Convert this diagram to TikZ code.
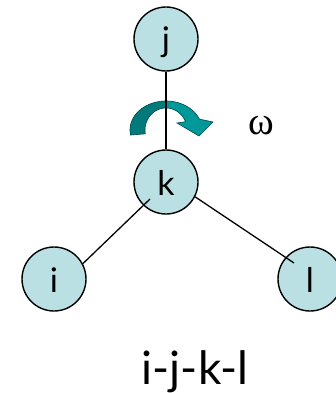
\documentclass[tikz,border=0pt]{standalone}
\usepackage{fontspec}
\setmainfont{Lato}
\newfontfamily\omegafont{Liberation Serif}
\definecolor{nodefill}{RGB}{187,224,227}
\definecolor{arrowdark}{RGB}{0,122,122}
\definecolor{arrowlight}{RGB}{0,153,153}
\definecolor{arrowedge}{RGB}{0,70,70}
\tikzset{
  atom/.style={circle, draw=black, line width=1.4pt, fill=nodefill, minimum size=64pt, inner sep=0pt,
    font=\fontsize{34}{34}\selectfont, text height=26pt, text depth=0pt},
  bond/.style={draw=black, line width=1.3pt},
  twist/.style={draw=arrowedge, line width=0.6pt}
}
\begin{document}
\begin{tikzpicture}[x=1pt, y=-1pt]
\useasboundingbox (0,0) rectangle (336,393);
% rotation arrow
\filldraw[twist, fill=arrowdark]
  plot[domain=170:270, samples=30, variable=\t] ({166+36*cos(\t)},{130+29*sin(\t)})
  -- plot[domain=270:170, samples=30, variable=\t] ({166+21*cos(\t)},{130+22*sin(\t)})
  -- cycle;
\filldraw[twist, fill=arrowlight]
  plot[domain=270:338, samples=25, variable=\t] ({166+36*cos(\t)},{130+29*sin(\t)})
  -- (213,122) -- (199,136) -- (177,123)
  -- plot[domain=338:270, samples=25, variable=\t] ({166+21*cos(\t)},{130+22*sin(\t)})
  -- cycle;
% atoms
\node[atom] (j) at (166,39) {j};
\node[atom] (k) at (166,182) {k};
\node[atom] (i) at (54,279) {i};
\node[atom] (l) at (310,279) {l};
% bonds
\draw[bond] (j.south) -- (k.north);
\draw[bond] ([shift={(-16,17)}]k.center) -- (i.28);
\draw[bond] (k.-27) -- ([shift={(-16,-16)}]l.center);
% labels
\node[anchor=base, font=\omegafont\fontsize{39}{39}\selectfont, inner sep=0pt] (omega) at (261,135) {ω};
\node[anchor=base, font=\fontsize{46}{46}\selectfont, inner sep=0pt] (name) at (195,384) {i-j-k-l};
\end{tikzpicture}
\end{document}
